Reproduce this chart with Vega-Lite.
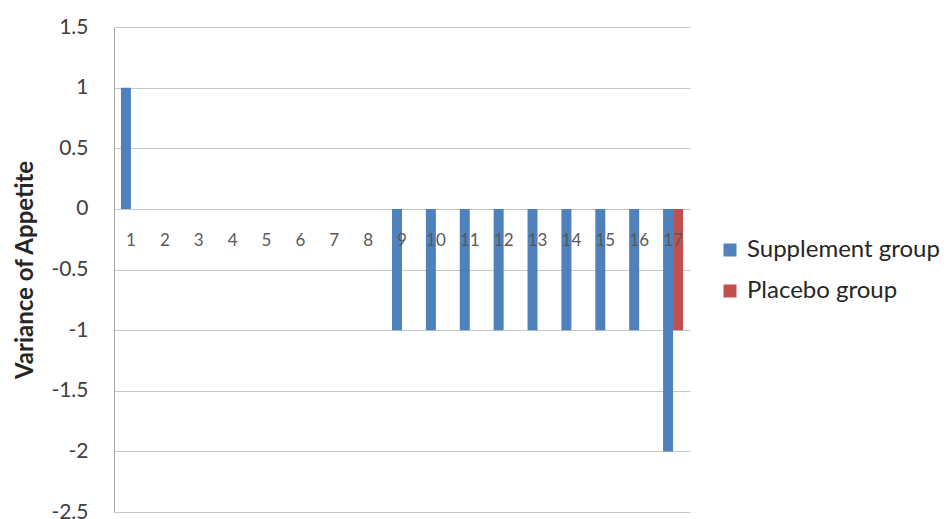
{
  "$schema": "https://vega.github.io/schema/vega-lite/v6.json",
  "width": 576,
  "height": 485,
  "autosize": "none",
  "padding": {"left": 114, "top": 27, "right": 254, "bottom": 7},
  "background": "white",
  "config": {"view": {"stroke": null}, "font": "Lato"},
  "data": {
    "values": [
      {"participant": 1, "group": "Supplement group", "value": 1},
      {"participant": 2, "group": "Supplement group", "value": 0},
      {"participant": 3, "group": "Supplement group", "value": 0},
      {"participant": 4, "group": "Supplement group", "value": 0},
      {"participant": 5, "group": "Supplement group", "value": 0},
      {"participant": 6, "group": "Supplement group", "value": 0},
      {"participant": 7, "group": "Supplement group", "value": 0},
      {"participant": 8, "group": "Supplement group", "value": 0},
      {"participant": 9, "group": "Supplement group", "value": -1},
      {"participant": 10, "group": "Supplement group", "value": -1},
      {"participant": 11, "group": "Supplement group", "value": -1},
      {"participant": 12, "group": "Supplement group", "value": -1},
      {"participant": 13, "group": "Supplement group", "value": -1},
      {"participant": 14, "group": "Supplement group", "value": -1},
      {"participant": 15, "group": "Supplement group", "value": -1},
      {"participant": 16, "group": "Supplement group", "value": -1},
      {"participant": 17, "group": "Supplement group", "value": -2},
      {"participant": 1, "group": "Placebo group", "value": 0},
      {"participant": 2, "group": "Placebo group", "value": 0},
      {"participant": 3, "group": "Placebo group", "value": 0},
      {"participant": 4, "group": "Placebo group", "value": 0},
      {"participant": 5, "group": "Placebo group", "value": 0},
      {"participant": 6, "group": "Placebo group", "value": 0},
      {"participant": 7, "group": "Placebo group", "value": 0},
      {"participant": 8, "group": "Placebo group", "value": 0},
      {"participant": 9, "group": "Placebo group", "value": 0},
      {"participant": 10, "group": "Placebo group", "value": 0},
      {"participant": 11, "group": "Placebo group", "value": 0},
      {"participant": 12, "group": "Placebo group", "value": 0},
      {"participant": 13, "group": "Placebo group", "value": 0},
      {"participant": 14, "group": "Placebo group", "value": 0},
      {"participant": 15, "group": "Placebo group", "value": 0},
      {"participant": 16, "group": "Placebo group", "value": 0},
      {"participant": 17, "group": "Placebo group", "value": -1}
    ]
  },
  "layer": [
    {
      "mark": {"type": "bar"},
      "encoding": {
        "x": {
          "field": "participant",
          "type": "ordinal",
          "scale": {"paddingInner": 0.41, "paddingOuter": 0.205},
          "axis": null
        },
        "xOffset": {
          "field": "group",
          "type": "nominal",
          "sort": ["Supplement group", "Placebo group"],
          "scale": {"paddingInner": 0, "paddingOuter": 0}
        },
        "y": {
          "field": "value",
          "type": "quantitative",
          "scale": {"domain": [-2.5, 1.5], "nice": false, "zero": false},
          "axis": {
            "values": [-2.5, -2, -1.5, -1, -0.5, 0, 0.5, 1, 1.5],
            "labelExpr": "toString(datum.value)",
            "labelFontSize": 21,
            "labelColor": "#404040",
            "labelPadding": 26,
            "ticks": false,
            "domainColor": "#a6a6a6",
            "gridColor": "#c8c8c8",
            "title": "Variance of Appetite",
            "titleFontSize": 24,
            "titleFontWeight": "bold",
            "titleColor": "#262626",
            "titlePadding": 13
          }
        },
        "color": {
          "field": "group",
          "type": "nominal",
          "scale": {"domain": ["Supplement group", "Placebo group"], "range": ["#4F81BD", "#C0504D"]},
          "legend": {
            "orient": "none",
            "legendX": 604,
            "legendY": 211,
            "title": null,
            "symbolType": "square",
            "symbolSize": 169,
            "symbolStrokeWidth": 0,
            "labelFontSize": 24,
            "labelColor": "#262626",
            "labelOffset": 5,
            "labelLimit": 0,
            "rowPadding": 17
          }
        }
      }
    },
    {
      "transform": [{"filter": "datum.group === 'Supplement group'"}],
      "mark": {"type": "text", "dy": 32, "fontSize": 17, "color": "#595959", "baseline": "middle"},
      "encoding": {
        "x": {"field": "participant", "type": "ordinal"},
        "y": {"datum": 0},
        "text": {"field": "participant"}
      }
    }
  ]
}
